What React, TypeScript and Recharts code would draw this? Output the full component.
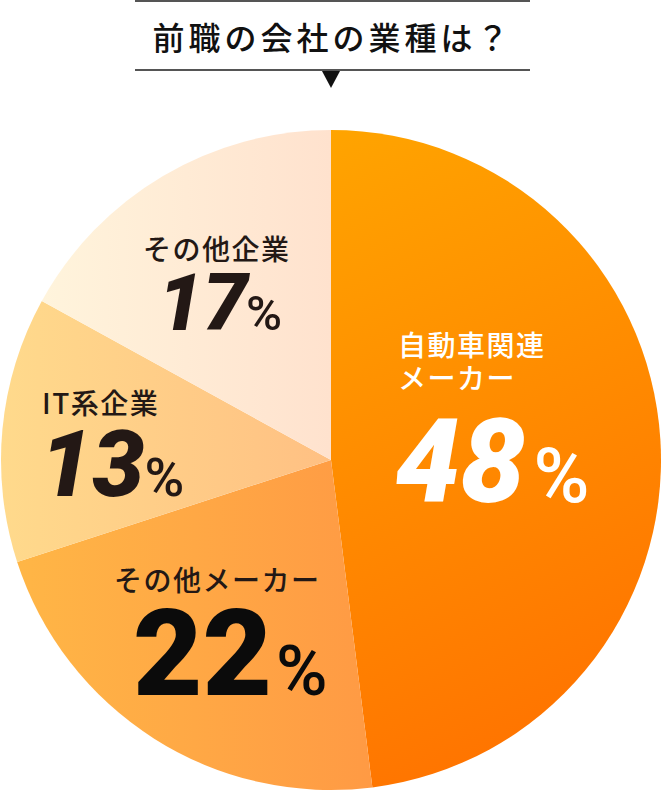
import { Cell, Pie, PieChart } from 'recharts';

const categories = ['自動車関連\nメーカー', 'その他メーカー', 'IT系企業', 'その他企業'];
const shares = [48, 22, 13, 17];
const titleText = '前職の会社の業種は？';

const data = categories.map((name, i) => ({ name, value: shares[i] }));

const gradients = [
  { id: 'g0', x2: 0.25, y2: 1, from: '#FFA400', to: '#FF7500' },
  { id: 'g1', x2: 1, y2: 0, from: '#FFB646', to: '#FF9A44' },
  { id: 'g2', x2: 1, y2: 0, from: '#FFDA8C', to: '#FFC083' },
  { id: 'g3', x2: 1, y2: 0, from: '#FFF4DC', to: '#FFE2CE' }
];

// label placement relative to pie centre (px)
const labelLayout = [
  { tx: 67, ty: -104, lh: 33, nx: 64, ny: 42, num: 116, pct: 76, gap: 8, italic: true, color: '#fff', numColor: '#fff' },
  { tx: -217, ty: 131, lh: 33, nx: -198, ny: 235, num: 120, pct: 70, gap: 4, italic: false, color: '#231815', numColor: '#0b0b0b' },
  { tx: -289, ty: -46, lh: 33, nx: -291, ny: 36, num: 93, pct: 54, gap: 0, italic: true, color: '#231815', numColor: '#231815' },
  { tx: -188, ty: -200, lh: 33, nx: -173, ny: -130, num: 80, pct: 49, gap: -2, italic: true, color: '#231815', numColor: '#231815' }
];

const jpFont = '"Noto Sans CJK JP", "Noto Sans", sans-serif';
const numFont = 'Roboto, "Liberation Sans", sans-serif';

function SliceLabel(props: any) {
  const { cx, cy, index, name, value } = props;
  const l = labelLayout[index];
  const lines = String(name).split('\n');
  return (
    <g>
      {lines.map((line, k) => (
        <text
          key={k}
          x={cx + l.tx}
          y={cy + l.ty + k * l.lh}
          fill={l.color}
          fontFamily={jpFont}
          fontWeight={500}
          fontSize={28}
          letterSpacing={1.5}
        >
          {line}
        </text>
      ))}
      <text x={cx + l.nx} y={cy + l.ny} fill={l.numColor} fontFamily={numFont}>
        <tspan fontSize={l.num} fontWeight={900} fontStyle={l.italic ? 'italic' : 'normal'}>
          {value}
        </tspan>
        <tspan fontSize={l.pct} dx={l.gap} fontWeight={500}>
          %
        </tspan>
      </text>
    </g>
  );
}

export default function App() {
  return (
    <div style={{ position: 'relative', width: 662, height: 792, background: '#fff' }}>
      <style>{'body{margin:0}'}</style>
      <div
        style={{
          position: 'absolute',
          left: 135,
          top: 0,
          width: 395,
          height: 71,
          borderTop: '2px solid #555',
          borderBottom: '2px solid #555',
          boxSizing: 'border-box',
          display: 'flex',
          alignItems: 'center',
          justifyContent: 'center',
          fontFamily: jpFont,
          fontWeight: 500,
          fontSize: 32,
          letterSpacing: 4,
          color: '#111'
        }}
      >
        {titleText}
      </div>
      <div
        style={{
          position: 'absolute',
          left: 322,
          top: 71,
          width: 0,
          height: 0,
          borderLeft: '9px solid transparent',
          borderRight: '9px solid transparent',
          borderTop: '17px solid #111'
        }}
      />
      <PieChart
        width={662}
        height={792}
        margin={{ top: 0, right: 0, bottom: 0, left: 0 }}
        style={{ position: 'absolute', left: 0, top: 0 }}
      >
        <defs>
          {gradients.map((g) => (
            <linearGradient key={g.id} id={g.id} x1="0" y1="0" x2={g.x2} y2={g.y2}>
              <stop offset="0%" stopColor={g.from} />
              <stop offset="100%" stopColor={g.to} />
            </linearGradient>
          ))}
        </defs>
        <Pie
          data={data}
          dataKey="value"
          nameKey="name"
          cx={331}
          cy={460}
          innerRadius={0}
          outerRadius={330}
          startAngle={90}
          endAngle={-270}
          stroke="none"
          labelLine={false}
          label={SliceLabel}
          isAnimationActive={false}
        >
          {data.map((d, i) => (
            <Cell key={d.name} fill={`url(#${gradients[i].id})`} />
          ))}
        </Pie>
      </PieChart>
    </div>
  );
}
